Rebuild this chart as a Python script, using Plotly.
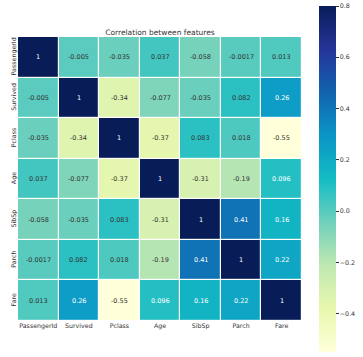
import plotly.graph_objects as go

features = ["PassengerId", "Survived", "Pclass", "Age", "SibSp", "Parch", "Fare"]
corr = [
    [1, -0.005, -0.035, 0.037, -0.058, -0.0017, 0.013],
    [-0.005, 1, -0.34, -0.077, -0.035, 0.082, 0.26],
    [-0.035, -0.34, 1, -0.37, 0.083, 0.018, -0.55],
    [0.037, -0.077, -0.37, 1, -0.31, -0.19, 0.096],
    [-0.058, -0.035, 0.083, -0.31, 1, 0.41, 0.16],
    [-0.0017, 0.082, 0.018, -0.19, 0.41, 1, 0.22],
    [0.013, 0.26, -0.55, 0.096, 0.16, 0.22, 1],
]
cbar_ticks = [0.8, 0.6, 0.4, 0.2, 0.0, -0.2, -0.4]

ylgnbu = ["#ffffd9", "#e8f8ae", "#c0e8b2", "#6fd0bc", "#14bcc4",
          "#0b95c6", "#1163ae", "#263499", "#081d58"]
colorscale = [[i / 8, c] for i, c in enumerate(ylgnbu)]

W, H = 363, 357
L, R, T, B = 18, 302, 37, 321
pw, ph = R - L, B - T

fig = go.Figure()
fig.add_trace(go.Heatmap(
    z=corr, x=features, y=features,
    zmin=-0.55, zmax=0.8,
    colorscale=colorscale,
    xgap=1.2, ygap=1.2,
    hoverinfo="skip",
    colorbar=dict(
        thickness=17,
        lenmode="pixels", len=346,
        x=(319 - L) / pw, xanchor="left", xpad=0,
        y=(B - 6) / ph, yanchor="top", ypad=0,
        outlinewidth=0,
        tickvals=cbar_ticks,
        tickformat=".1f",
        ticks="outside", ticklen=3, tickwidth=0.8, tickcolor="#333",
        tickfont=dict(size=6.3, color="#333", family="DejaVu Sans"),
    ),
))

annotations = []
for i, row in enumerate(corr):
    for j, v in enumerate(row):
        annotations.append(dict(
            x=features[j], y=features[i], xref="x", yref="y",
            text="{:.2g}".format(v), showarrow=False,
            font=dict(size=6.5, family="DejaVu Sans",
                      color="white" if v >= 0.09 else "#333"),
        ))

fig.update_layout(
    width=W, height=H,
    margin=dict(l=L, r=W - R, t=T, b=H - B, autoexpand=False),
    paper_bgcolor="white", plot_bgcolor="white",
    title=dict(text="Correlation between features", x=(L + R) / 2 / W, xanchor="center",
               y=1 - 32 / H, yanchor="middle",
               font=dict(size=7.5, color="#333", family="DejaVu Sans")),
    annotations=annotations,
    font=dict(family="DejaVu Sans", color="#333"),
)
fig.update_xaxes(showgrid=False, zeroline=False, ticks="", ticklen=0,
                 tickfont=dict(size=6.3, color="#333"), tickangle=0)
fig.update_yaxes(showgrid=False, zeroline=False, ticks="", autorange="reversed",
                 tickfont=dict(size=6.3, color="#333"), tickangle=-90)

fig.write_html("out.html", config={"displayModeBar": False},
               post_script="document.body.style.margin='0';")
